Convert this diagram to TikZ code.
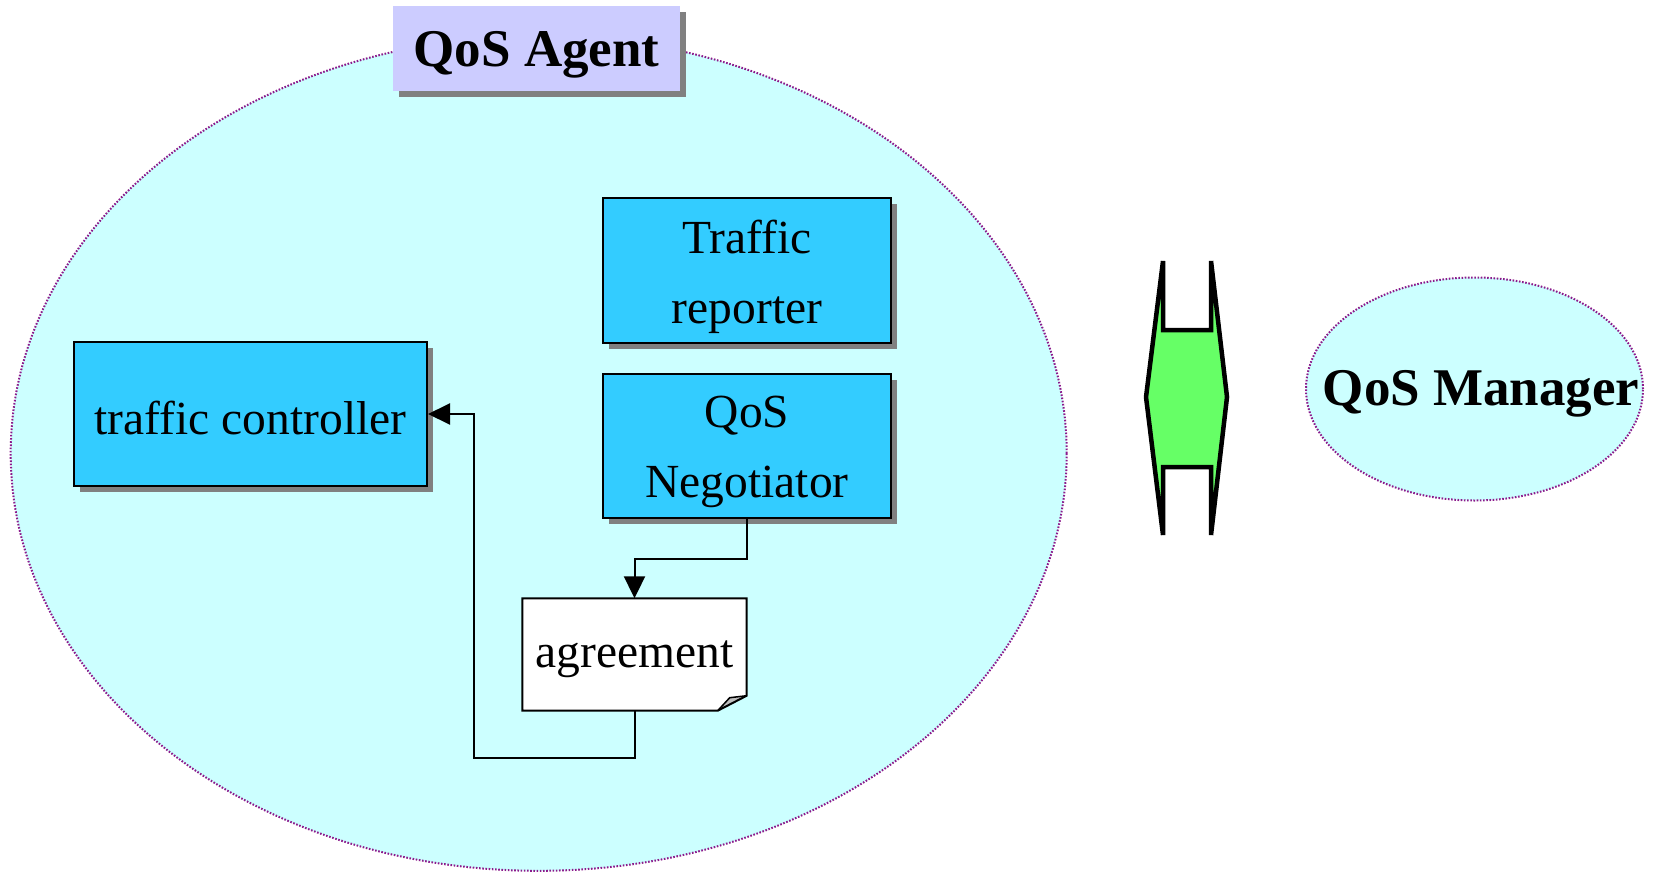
\documentclass[tikz,border=0pt]{standalone}
\usepackage{fontspec}
\setmainfont{Liberation Serif}
\usetikzlibrary{shapes.geometric,shadows,arrows.meta}
\definecolor{agentbg}{HTML}{CCFFFF}
\definecolor{boxblue}{HTML}{33CCFF}
\definecolor{labelbg}{HTML}{CCCCFF}
\definecolor{linkgreen}{HTML}{66FF66}
\definecolor{rimpurple}{HTML}{8B1A8B}
\definecolor{shadowgray}{HTML}{808080}
\tikzset{
  region/.style={ellipse, fill=agentbg, draw=rimpurple, line width=2pt,
    dash pattern=on 1.6pt off 1.6pt, inner sep=0pt},
  shadowed/.style={drop shadow={shadow xshift=6pt, shadow yshift=-6pt,
    fill=shadowgray, opacity=1}},
  compbox/.style={rectangle, fill=boxblue, draw=black, line width=2pt,
    shadowed, inner sep=0pt},
  bodytext/.style={inner sep=0pt, align=center,
    font=\fontsize{47.5}{70}\selectfont},
  boldtext/.style={inner sep=0pt, font=\fontsize{53}{60}\selectfont\bfseries},
  titlebox/.style={rectangle, fill=labelbg, draw=none, shadowed, inner sep=0pt},
  flow/.style={draw=black, line width=2pt,
    -{Triangle[length=22pt,width=21pt]}},
}
\begin{document}
\begin{tikzpicture}[x=1pt,y=-1pt]
\useasboundingbox (0,0) rectangle (1653,872);

% the agent and the manager
\node[region, minimum width=1056, minimum height=835] (agent) at (538.7,453.3) {};
\node[region, minimum width=337, minimum height=223] (mgr) at (1474.5,389) {};
\node[boldtext] (mgrtext) at (1481,394) {QoS Manager};

% title of the agent
\node[titlebox, minimum width=287, minimum height=85] (title) at (536.5,48.5) {};
\node[boldtext] (titletext) at (536.5,55) {QoS Agent};

% components
\node[compbox, minimum width=288, minimum height=145] (rep) at (747,270.5) {};
\node[bodytext] (reptext) at ([yshift=-6pt]rep.center) {Traffic\\reporter};
\node[compbox, minimum width=288, minimum height=144] (neg) at (747,446) {};
\node[bodytext] (negtext) at ([yshift=-6pt]neg.center) {QoS\\Negotiator};
\node[compbox, minimum width=353, minimum height=144] (ctrl) at (250.5,414) {};
\node[bodytext] (ctrltext) at ([yshift=-4pt]ctrl.center) {traffic controller};

% agreement document with folded corner
\node[minimum width=224, minimum height=112, inner sep=0pt] (agr) at (634.5,654.5) {};
\fill[white] (agr.north west) -- (agr.north east) -- ([yshift=15pt]agr.south east)
  -- ([xshift=-29pt]agr.south east) -- (agr.south west) -- cycle;
\fill[black!25] ([yshift=15pt]agr.south east) -- ([xshift=-29pt]agr.south east)
  -- ([xshift=-17pt,yshift=13pt]agr.south east) -- cycle;
\draw[line width=2pt, line join=miter] (agr.north west) -- (agr.north east)
  -- ([yshift=15pt]agr.south east) -- ([xshift=-29pt]agr.south east)
  -- (agr.south west) -- cycle;
\draw[line width=1.5pt] ([yshift=15pt]agr.south east)
  -- ([xshift=-17pt,yshift=13pt]agr.south east) -- ([xshift=-29pt]agr.south east);
\node[bodytext] (agrtext) at ([yshift=-5pt]agr.center) {agreement};

% connectors
\draw[flow] (neg.south) -- ++(0,40) -| (agr.north);
\coordinate (bend) at (474,758);
\draw[flow] (agr.south) |- (bend) |- (ctrl.east);

% link between agent and manager
\draw[fill=linkgreen, line width=4.5pt, line join=miter]
  (1163,261) -- (1146,397) -- (1163,535) -- (1163,467) -- (1211,467)
  -- (1211,535) -- (1227,397) -- (1211,261) -- (1211,330) -- (1163,330) -- cycle;
\end{tikzpicture}
\end{document}
